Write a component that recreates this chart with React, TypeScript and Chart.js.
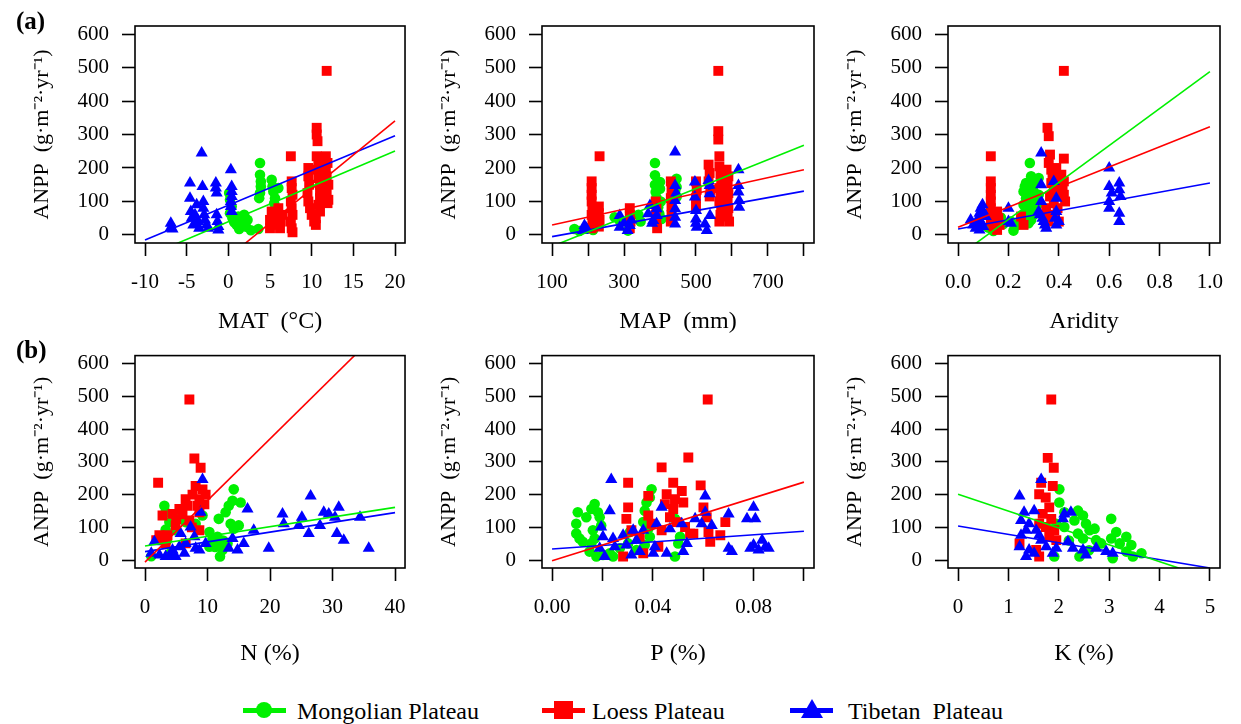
import React, { useEffect, useRef } from 'react';
import { Chart, registerables } from 'chart.js';

Chart.register(...registerables);

type Pt = [number, number];

// ---------- colours / fonts ----------
const GREEN = '#00f000';
const RED = '#ff0000';
const BLUE = '#0000ff';
const SERIF = "'Liberation Serif', 'Times New Roman', serif";

// ---------- series names ----------
const seriesNames = ['Mongolian Plateau', 'Loess Plateau', 'Tibetan Plateau'];

// ---------- shared y axis ----------
const anppRange = [-24, 624];
const anppTicks = [0, 100, 200, 300, 400, 500, 600];
const anppTitle = 'ANPP  (g·m⁻²·yr⁻¹)';

// ---------- (a) MAT ----------
const matRange = [-11.2, 21.2];
const matTicks = [-10, -5, 0, 5, 10, 15, 20];
const matLabels = ['-10', '-5', '0', '5', '10', '15', '20'];
const matMongolian: Pt[] = [
  [0.1, 125], [0.2, 105], [0.4, 85], [0.2, 65], [0.5, 50], [0.7, 38], [1.0, 30], [1.2, 55], [1.3, 18],
  [1.8, 40], [1.9, 60], [2.1, 25], [2.3, 45], [2.7, 14], [3.6, 18], [3.8, 215], [3.8, 180], [3.9, 160],
  [3.9, 145], [3.7, 110], [3.8, 125], [5.2, 165], [5.3, 145], [5.4, 130], [5.6, 110], [5.5, 95],
  [5.8, 75], [5.8, 60], [6.0, 140],
];
const matLoess: Pt[] = [
  [5.0, 20], [5.0, 45], [5.2, 70], [5.5, 30], [5.7, 55], [6.0, 80], [6.2, 20], [6.3, 40], [6.5, 60],
  [7.5, 235], [7.6, 160], [7.6, 140], [7.7, 120], [7.5, 100], [7.6, 80], [7.7, 60], [7.5, 40], [7.6, 20], [7.7, 8],
  [9.6, 200], [9.6, 175], [9.7, 150], [9.5, 125], [9.6, 100], [9.8, 80], [10.0, 60], [10.3, 40], [10.5, 30],
  [10.6, 320], [10.6, 300], [10.7, 280], [10.6, 235], [10.8, 215], [10.7, 195], [10.8, 170], [11.0, 150],
  [11.0, 130], [11.0, 110], [10.8, 90], [11.0, 70], [10.5, 50],
  [11.8, 490], [11.7, 235], [11.9, 215], [11.7, 195], [11.8, 175], [12.0, 150], [11.8, 125], [12.0, 105], [11.9, 95],
];
const matTibetan: Pt[] = [
  [-6.9, 35], [-6.9, 22], [-6.7, 18], [-4.6, 155], [-4.6, 110], [-4.5, 70], [-4.4, 50], [-4.2, 30],
  [-4.0, 60], [-3.8, 90], [-3.6, 40], [-3.5, 20], [-3.2, 245], [-3.1, 145], [-3.0, 100], [-3.0, 80],
  [-2.9, 60], [-2.8, 45], [-2.6, 30], [-2.4, 20], [-1.5, 155], [-1.5, 140], [-1.4, 125], [-1.4, 60],
  [-1.3, 40], [-1.2, 25], [-1.2, 15], [0.3, 195], [0.4, 145], [0.4, 130], [0.4, 115], [0.3, 100],
  [0.3, 85], [0.4, 70],
];
const matFitMongolian: Pt[] = [[-10, -66], [20, 251]];
const matFitLoess: Pt[] = [[-10, -270], [20, 341]];
const matFitTibetan: Pt[] = [[-10, -15], [20, 296]];

// ---------- (a) MAP ----------
const mapRange = [72, 828];
const mapTicks = [100, 200, 300, 400, 500, 600, 700, 800];
const mapLabels = ['100', '', '300', '', '500', '', '700', ''];
const mapMongolian: Pt[] = [
  [162, 18], [176, 12], [214, 15], [274, 53], [288, 43], [311, 13], [340, 60], [346, 40], [386, 215],
  [386, 178], [386, 150], [388, 128], [392, 103], [395, 83], [398, 63], [400, 138], [400, 158],
  [402, 100], [404, 48], [390, 112], [446, 168], [446, 143], [446, 113], [442, 130],
];
const mapLoess: Pt[] = [
  [210, 160], [210, 140], [210, 120], [210, 100], [212, 80], [210, 60], [212, 40], [210, 20], [232, 235],
  [230, 85], [230, 65], [232, 45], [230, 25], [316, 80], [316, 60], [318, 40], [316, 20], [388, 100],
  [390, 80], [388, 60], [390, 40], [392, 20], [430, 160], [432, 135], [430, 110], [432, 85], [432, 60],
  [430, 40], [500, 160], [502, 135], [500, 110], [500, 85], [535, 210], [538, 185], [535, 160], [540, 135],
  [538, 115], [562, 490], [562, 310], [562, 285], [565, 235], [565, 205], [568, 180], [570, 160], [565, 140],
  [568, 120], [565, 100], [570, 80], [568, 60], [565, 40], [585, 195], [590, 175], [588, 150], [590, 125],
  [588, 100], [590, 80], [588, 55], [592, 40],
];
const mapTibetan: Pt[] = [
  [186, 13], [190, 28], [195, 20], [288, 58], [288, 23], [300, 35], [316, 28], [320, 45], [310, 13],
  [372, 88], [367, 63], [381, 43], [391, 58], [391, 78], [378, 35], [442, 248], [442, 148], [442, 103],
  [442, 78], [442, 53], [442, 33], [445, 125], [497, 158], [497, 113], [500, 73], [500, 48], [502, 23],
  [500, 35], [525, 33], [530, 13], [539, 58], [535, 163], [538, 148], [538, 123], [618, 195], [618, 148],
  [618, 128], [620, 103], [620, 83],
];
const mapFitMongolian: Pt[] = [[100, -34], [800, 268]];
const mapFitLoess: Pt[] = [[100, 30], [800, 195]];
const mapFitTibetan: Pt[] = [[100, -5], [800, 131]];

// ---------- (a) Aridity ----------
const aridRange = [-0.04, 1.04];
const aridTicks = [0, 0.2, 0.4, 0.6, 0.8, 1.0];
const aridLabels = ['0.0', '0.2', '0.4', '0.6', '0.8', '1.0'];
const aridMongolian: Pt[] = [
  [0.12, 22], [0.14, 12], [0.135, 35], [0.17, 52], [0.18, 33], [0.16, 45], [0.22, 13], [0.23, 28],
  [0.21, 40], [0.25, 50], [0.26, 60], [0.27, 75], [0.26, 90], [0.27, 110], [0.26, 130], [0.265, 145],
  [0.27, 155], [0.285, 215], [0.29, 175], [0.295, 165], [0.3, 150], [0.28, 140], [0.285, 120], [0.3, 130],
  [0.31, 110], [0.29, 95], [0.3, 85], [0.28, 70], [0.3, 60], [0.29, 45], [0.32, 170], [0.31, 160],
  [0.32, 120], [0.315, 90], [0.28, 35], [0.27, 40],
];
const aridLoess: Pt[] = [
  [0.13, 235], [0.13, 160], [0.13, 140], [0.13, 120], [0.13, 100], [0.13, 80], [0.135, 60], [0.13, 40],
  [0.14, 25], [0.155, 70], [0.16, 50], [0.165, 30], [0.155, 15], [0.25, 55], [0.26, 30], [0.35, 80],
  [0.35, 60], [0.36, 40], [0.355, 320], [0.36, 295], [0.365, 240], [0.36, 215], [0.37, 195], [0.375, 175],
  [0.37, 155], [0.38, 135], [0.365, 115], [0.38, 95], [0.39, 200], [0.4, 160], [0.39, 120], [0.395, 80],
  [0.385, 60], [0.4, 40], [0.42, 490], [0.42, 228], [0.41, 180], [0.42, 160], [0.415, 140], [0.42, 120],
  [0.425, 100],
];
const aridTibetan: Pt[] = [
  [0.05, 45], [0.06, 30], [0.07, 20], [0.08, 50], [0.085, 65], [0.09, 80], [0.097, 90], [0.1, 70],
  [0.09, 40], [0.1, 25], [0.11, 55], [0.085, 15], [0.075, 35], [0.2, 80], [0.2, 40], [0.21, 35],
  [0.33, 245], [0.33, 150], [0.33, 100], [0.32, 70], [0.335, 50], [0.345, 30], [0.35, 20], [0.34, 40],
  [0.325, 60], [0.38, 160], [0.39, 110], [0.39, 70], [0.385, 50], [0.39, 30], [0.4, 40], [0.6, 200],
  [0.6, 145], [0.61, 125], [0.6, 100], [0.6, 80], [0.64, 155], [0.64, 135], [0.645, 115], [0.64, 65],
  [0.64, 40],
];
const aridFitMongolian: Pt[] = [[0, -64], [1, 488]];
const aridFitLoess: Pt[] = [[0, 23], [1, 323]];
const aridFitTibetan: Pt[] = [[0, 18], [1, 155]];

// ---------- (b) N ----------
const nRange = [-1.6, 41.6];
const nTicks = [0, 10, 20, 30, 40];
const nLabels = ['0', '10', '20', '30', '40'];
const nMongolian: Pt[] = [
  [1.0, 12], [3.1, 166], [3.3, 146], [3.9, 116], [3.3, 93], [4.4, 116], [5.7, 146], [5.5, 131], [4.9, 91],
  [6.5, 116], [8.1, 111], [9.2, 136], [3.5, 60], [4.0, 20], [10.3, 86], [10.8, 66], [11.6, 71], [10.3, 41],
  [11.8, 51], [12.0, 11], [12.4, 31], [11.8, 126], [12.9, 146], [13.4, 166], [14.0, 181], [14.2, 216],
  [15.3, 176], [13.7, 111], [15.0, 106], [14.2, 96], [13.2, 51], [12.5, 60], [11.2, 40],
];
const nLoess: Pt[] = [
  [2.1, 236], [7.1, 490], [7.9, 310], [8.9, 282], [8.1, 226], [9.2, 216], [9.7, 200], [7.6, 200],
  [6.5, 186], [8.7, 186], [6.8, 166], [8.4, 166], [5.5, 156], [4.4, 141], [2.8, 136], [8.7, 146],
  [7.1, 121], [4.9, 106], [8.7, 91], [2.3, 76], [3.6, 76], [1.8, 61], [3.3, 51], [6.5, 51], [6.0, 140],
  [5.0, 125], [7.5, 100], [9.5, 170],
];
const nTibetan: Pt[] = [
  [1.5, 56], [1.0, 21], [2.3, 16], [3.3, 11], [4.4, 31], [5.5, 41], [5.7, 81], [6.5, 51], [7.3, 101],
  [7.9, 71], [8.7, 31], [8.1, 36], [6.3, 21], [4.9, 11], [4.1, 16], [9.2, 246], [8.9, 146], [9.7, 51],
  [14.0, 66], [13.4, 36], [14.8, 31], [15.8, 51], [16.4, 156], [17.4, 91], [19.8, 36], [22.0, 141],
  [22.2, 111], [24.6, 106], [25.1, 131], [26.2, 81], [26.5, 196], [28.0, 106], [28.6, 146], [29.4, 141],
  [30.4, 131], [30.7, 81], [31.0, 161], [31.8, 61], [34.4, 131], [35.8, 36],
];
const nFitMongolian: Pt[] = [[0, 43], [40, 161]];
const nFitLoess: Pt[] = [[0, -6], [40, 746]];
const nFitTibetan: Pt[] = [[0, 26], [40, 145]];

// ---------- (b) P ----------
const pRange = [-0.004, 0.104];
const pTicks = [0, 0.02, 0.04, 0.06, 0.08, 0.1];
const pLabels = ['0.00', '', '0.04', '', '0.08', ''];
const pMongolian: Pt[] = [
  [0.0102, 146], [0.0096, 111], [0.0096, 81], [0.0109, 66], [0.0122, 56], [0.0136, 131], [0.0156, 156],
  [0.0169, 171], [0.0182, 146], [0.0189, 131], [0.0195, 106], [0.0162, 91], [0.0169, 66], [0.0156, 51],
  [0.0149, 26], [0.0176, 11], [0.0202, 16], [0.0229, 21], [0.0242, 11], [0.0269, 36], [0.0302, 51],
  [0.0309, 86], [0.0335, 31], [0.0395, 216], [0.0388, 191], [0.0375, 176], [0.0368, 151], [0.0362, 116],
  [0.0382, 96], [0.0388, 71], [0.0368, 46], [0.0488, 126], [0.0488, 11], [0.0501, 51], [0.0508, 71],
];
const pLoess: Pt[] = [
  [0.0302, 236], [0.0302, 161], [0.0295, 126], [0.0282, 11], [0.0315, 91], [0.0348, 71], [0.0362, 21],
  [0.0382, 196], [0.0382, 136], [0.0395, 111], [0.0435, 283], [0.0455, 201], [0.0448, 171], [0.0435, 91],
  [0.0422, 41], [0.0468, 131], [0.0481, 236], [0.0488, 186], [0.0481, 156], [0.0495, 116], [0.0515, 211],
  [0.0521, 176], [0.0528, 101], [0.0541, 313], [0.0548, 81], [0.0561, 81], [0.059, 228], [0.0601, 161],
  [0.0614, 131], [0.0618, 490], [0.0621, 86], [0.0628, 56], [0.0668, 76], [0.0688, 116],
];
const pTibetan: Pt[] = [
  [0.0235, 246], [0.0229, 151], [0.0195, 101], [0.0202, 71], [0.0189, 36], [0.0209, 11], [0.0242, 66],
  [0.0249, 41], [0.0282, 76], [0.0295, 46], [0.0322, 91], [0.0335, 61], [0.0348, 26], [0.0315, 16],
  [0.0362, 91], [0.0415, 111], [0.0435, 161], [0.0408, 41], [0.0402, 21], [0.0455, 21], [0.0468, 96],
  [0.0515, 111], [0.0521, 26], [0.0535, 51], [0.0568, 126], [0.0594, 111], [0.0608, 196], [0.0608, 146],
  [0.0634, 106], [0.0701, 141], [0.0701, 36], [0.0714, 26], [0.0774, 126], [0.0787, 36], [0.08, 161],
  [0.08, 46], [0.0807, 126], [0.0834, 61], [0.0847, 41], [0.086, 36], [0.082, 31],
];
const pFitLoess: Pt[] = [[0, -2], [0.1, 238]];
const pFitTibetan: Pt[] = [[0, 34], [0.1, 88]];

// ---------- (b) K ----------
const kRange = [-0.2, 5.2];
const kTicks = [0, 1, 2, 3, 4, 5];
const kLabels = ['0', '1', '2', '3', '4', '5'];
const kMongolian: Pt[] = [
  [2.01, 216], [2.01, 176], [2.11, 146], [1.95, 111], [2.11, 101], [2.38, 151], [2.48, 136], [2.31, 121],
  [2.54, 111], [2.61, 91], [2.71, 96], [2.38, 81], [2.48, 66], [2.41, 11], [2.74, 61], [2.84, 51],
  [3.04, 126], [3.14, 86], [3.04, 66], [3.21, 51], [3.34, 71], [3.44, 46], [3.34, 26], [3.64, 21],
  [3.47, 11], [3.07, 6], [1.91, 11], [2.2, 60], [2.6, 30],
];
const kLoess: Pt[] = [
  [1.85, 490], [1.78, 312], [1.9, 282], [1.88, 226], [1.65, 236], [1.61, 201], [1.74, 191], [1.81, 161],
  [1.68, 141], [1.85, 126], [1.61, 111], [1.74, 101], [1.91, 91], [1.22, 51], [1.81, 71], [1.95, 61],
  [1.61, 11], [1.55, 31],
];
const kTibetan: Pt[] = [
  [1.22, 196], [1.65, 246], [1.51, 151], [1.31, 146], [1.25, 121], [1.41, 111], [1.35, 91], [1.25, 76],
  [1.22, 41], [1.41, 31], [1.35, 11], [1.51, 21], [1.65, 61], [1.75, 41], [1.88, 21], [2.11, 141],
  [2.24, 146], [2.08, 126], [2.18, 56], [1.95, 36], [2.28, 36], [2.48, 31], [2.54, 16], [2.74, 36],
  [2.94, 26], [3.07, 21], [1.55, 91], [1.61, 76],
];
const kFitMongolian: Pt[] = [[0, 201], [5, -56]];
const kFitTibetan: Pt[] = [[0, 104], [5, -24]];

// ---------- helpers ----------
const toXY = (d: Pt[]) => d.map(([x, y]) => ({ x, y }));

function points(idx: number, data: Pt[]) {
  const styles = [
    { pointStyle: 'circle', r: 5.3, color: GREEN, order: 3 },
    { pointStyle: 'rect', r: 7, color: RED, order: 2 },
    { pointStyle: 'triangle', r: 7, color: BLUE, order: 1 },
  ][idx];
  return {
    label: seriesNames[idx],
    data: toXY(data),
    showLine: false,
    pointStyle: styles.pointStyle,
    pointRadius: styles.r,
    pointHoverRadius: styles.r,
    backgroundColor: styles.color,
    borderColor: styles.color,
    borderWidth: 0,
    order: styles.order,
  };
}

function fit(idx: number, data: Pt[]) {
  const color = [GREEN, RED, BLUE][idx];
  return {
    label: seriesNames[idx] + ' fit',
    data: toXY(data),
    showLine: true,
    pointRadius: 0,
    pointHoverRadius: 0,
    borderColor: color,
    backgroundColor: color,
    borderWidth: 1.6,
    fill: false,
    order: 0,
  };
}

const boxPlugin = {
  id: 'box',
  afterDraw(chart: any) {
    const { ctx, chartArea } = chart;
    const { left, top, right, bottom } = chartArea;
    ctx.save();
    ctx.strokeStyle = '#000';
    ctx.lineWidth = 1.6;
    ctx.strokeRect(left, top, right - left, bottom - top);
    ctx.restore();
  },
};

type PanelSpec = {
  left: number; top: number; w: number; h: number;
  yW: number; xH: number; pt: number; pr: number; yTitlePad: number;
  xRange: number[]; xTicks: number[]; xLabels: string[]; xTitle: string;
  datasets: any[];
};

function Panel({ spec }: { spec: PanelSpec }) {
  const ref = useRef<HTMLCanvasElement | null>(null);
  useEffect(() => {
    if (!ref.current) return;
    const tickFont = { family: SERIF, size: 21, lineHeight: 1.2 };
    const grid = {
      display: true,
      drawOnChartArea: false,
      drawTicks: true,
      tickLength: 13,
      tickWidth: 1.6,
      tickColor: '#000',
    };
    const chart = new Chart(ref.current, {
      type: 'scatter',
      data: { datasets: spec.datasets },
      options: {
        animation: false,
        responsive: false,
        devicePixelRatio: 1,
        events: [],
        layout: { padding: { top: spec.pt, right: spec.pr, left: 0, bottom: 0 } },
        plugins: { legend: { display: false }, tooltip: { enabled: false } },
        scales: {
          x: {
            type: 'linear',
            position: 'bottom',
            min: spec.xRange[0],
            max: spec.xRange[1],
            afterBuildTicks: (s: any) => { s.ticks = spec.xTicks.map((v) => ({ value: v })); },
            afterFit: (s: any) => { s.height = spec.xH; },
            ticks: {
              autoSkip: false, maxRotation: 0, minRotation: 0, padding: 14, color: '#000', font: tickFont,
              callback: (_v: any, i: number) => spec.xLabels[i],
            },
            grid,
            border: { display: false },
            title: {
              display: true, text: spec.xTitle, color: '#000',
              font: { family: SERIF, size: 24, lineHeight: 1.2 }, padding: { top: 0, bottom: 0 },
            },
          },
          y: {
            type: 'linear',
            position: 'left',
            min: anppRange[0],
            max: anppRange[1],
            afterBuildTicks: (s: any) => { s.ticks = anppTicks.map((v) => ({ value: v })); },
            afterFit: (s: any) => { s.width = spec.yW; },
            ticks: {
              autoSkip: false, padding: 13, color: '#000', font: tickFont,
              callback: (v: any) => String(v),
            },
            grid,
            border: { display: false },
            title: {
              display: true, text: anppTitle, color: '#000',
              font: { family: SERIF, size: 22, lineHeight: 1.2 }, padding: { top: spec.yTitlePad, bottom: 0 },
            },
          },
        },
      } as any,
      plugins: [boxPlugin],
    });
    return () => chart.destroy();
  }, [spec]);
  return (
    <canvas
      ref={ref}
      width={spec.w}
      height={spec.h}
      style={{ position: 'absolute', left: spec.left, top: spec.top, width: spec.w, height: spec.h }}
    />
  );
}

// ---------- layout (positions only) ----------
const cols = [
  { left: 0, w: 420, yW: 135, pr: 13, yTitlePad: 28.8 },
  { left: 410, w: 420, yW: 132, pr: 16, yTitlePad: 25.8 },
  { left: 820, w: 421, yW: 128, pr: 21, yTitlePad: 21.8 },
];
const rows = [
  { top: 0, h: 336, pt: 26, xH: 93 },
  { top: 330, h: 338, pt: 22, xH: 100 },
];

const specs: PanelSpec[] = [
  {
    ...cols[0], ...rows[0], xRange: matRange, xTicks: matTicks, xLabels: matLabels, xTitle: 'MAT  (°C)',
    datasets: [points(0, matMongolian), points(1, matLoess), points(2, matTibetan),
      fit(0, matFitMongolian), fit(1, matFitLoess), fit(2, matFitTibetan)],
  },
  {
    ...cols[1], ...rows[0], xRange: mapRange, xTicks: mapTicks, xLabels: mapLabels, xTitle: 'MAP  (mm)',
    datasets: [points(0, mapMongolian), points(1, mapLoess), points(2, mapTibetan),
      fit(0, mapFitMongolian), fit(1, mapFitLoess), fit(2, mapFitTibetan)],
  },
  {
    ...cols[2], ...rows[0], xRange: aridRange, xTicks: aridTicks, xLabels: aridLabels, xTitle: 'Aridity',
    datasets: [points(0, aridMongolian), points(1, aridLoess), points(2, aridTibetan),
      fit(0, aridFitMongolian), fit(1, aridFitLoess), fit(2, aridFitTibetan)],
  },
  {
    ...cols[0], ...rows[1], xRange: nRange, xTicks: nTicks, xLabels: nLabels, xTitle: 'N (%)',
    datasets: [points(0, nMongolian), points(1, nLoess), points(2, nTibetan),
      fit(0, nFitMongolian), fit(1, nFitLoess), fit(2, nFitTibetan)],
  },
  {
    ...cols[1], ...rows[1], xRange: pRange, xTicks: pTicks, xLabels: pLabels, xTitle: 'P (%)',
    datasets: [points(0, pMongolian), points(1, pLoess), points(2, pTibetan),
      fit(1, pFitLoess), fit(2, pFitTibetan)],
  },
  {
    ...cols[2], ...rows[1], xRange: kRange, xTicks: kTicks, xLabels: kLabels, xTitle: 'K (%)',
    datasets: [points(0, kMongolian), points(1, kLoess), points(2, kTibetan),
      fit(0, kFitMongolian), fit(2, kFitTibetan)],
  },
];

function LegendItem({ x, idx }: { x: number; idx: number }) {
  const color = [GREEN, RED, BLUE][idx];
  let marker: React.ReactNode;
  if (idx === 0) {
    marker = <div style={{ position: 'absolute', left: 13, top: -8, width: 16, height: 16, borderRadius: '50%', background: color }} />;
  } else if (idx === 1) {
    marker = <div style={{ position: 'absolute', left: 12, top: -9, width: 19, height: 18, background: color }} />;
  } else {
    marker = (
      <div style={{
        position: 'absolute', left: 11, top: -11, width: 0, height: 0,
        borderLeft: '11px solid transparent', borderRight: '11px solid transparent', borderBottom: '19px solid ' + color,
      }} />
    );
  }
  const textLeft = idx === 2 ? 58 : idx === 1 ? 50 : 54;
  return (
    <div style={{ position: 'absolute', left: x, top: 710, width: 0, height: 0 }}>
      <div style={{ position: 'absolute', left: 0, top: -2.5, width: 43, height: 5, background: color }} />
      {marker}
      <div style={{
        position: 'absolute', left: textLeft, top: -11, fontFamily: SERIF, fontSize: 24, lineHeight: '24px',
        color: '#000', whiteSpace: 'pre',
      }}>
        {idx === 2 ? 'Tibetan  Plateau' : seriesNames[idx]}
      </div>
    </div>
  );
}

export default function App() {
  return (
    <div style={{ position: 'absolute', left: 0, top: 0, width: 1241, height: 724, background: '#fff', overflow: 'hidden' }}>
      {specs.map((s, i) => <Panel key={i} spec={s} />)}
      <div style={{ position: 'absolute', left: 16, top: 8, fontFamily: SERIF, fontWeight: 'bold', fontSize: 25, lineHeight: '25px' }}>(a)</div>
      <div style={{ position: 'absolute', left: 16, top: 337, fontFamily: SERIF, fontWeight: 'bold', fontSize: 25, lineHeight: '25px' }}>(b)</div>
      <LegendItem x={243} idx={0} />
      <LegendItem x={542} idx={1} />
      <LegendItem x={790} idx={2} />
    </div>
  );
}
